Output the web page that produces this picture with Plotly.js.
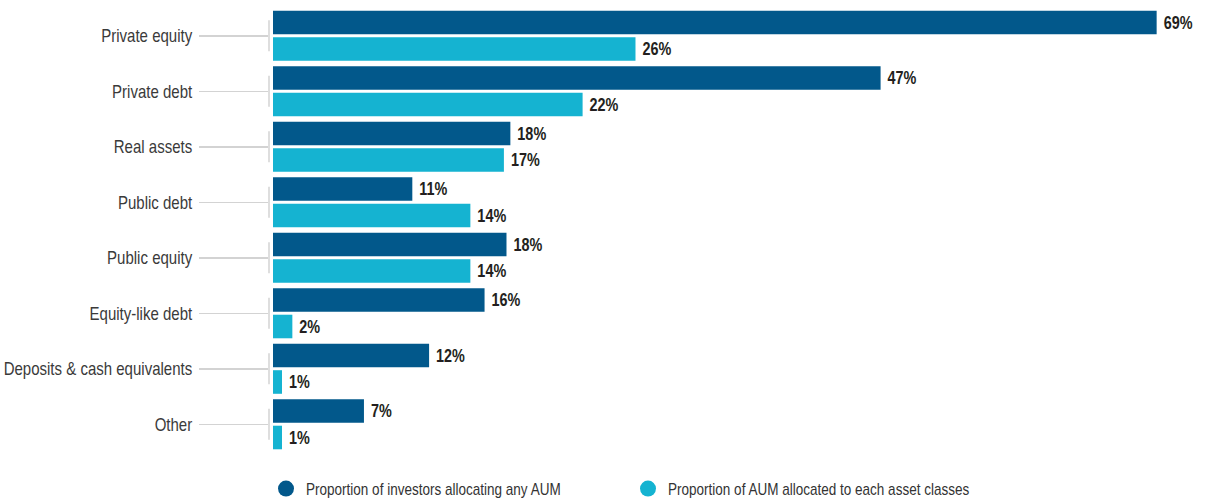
<!DOCTYPE html>
<html>
<head>
<meta charset="utf-8">
<script src="https://cdn.plot.ly/plotly-3.0.1.min.js"></script>
<style>
  html, body { margin: 0; padding: 0; background: #ffffff; }
  #chart { width: 1205px; height: 502px; }
</style>
</head>
<body>
<div id="chart"></div>
<script>
// ---- data ----
const categories = [
  "Private equity",
  "Private debt",
  "Real assets",
  "Public debt",
  "Public equity",
  "Equity-like debt",
  "Deposits & cash equivalents",
  "Other"
];
const seriesNames = [
  "Proportion of investors allocating any AUM",
  "Proportion of AUM allocated to each asset classes"
];
// bar lengths as drawn in the picture (percent)
const investorsValues = [68.5, 47.1, 18.4, 10.8, 18.1, 16.4, 12.1, 7.05];
const aumValues       = [28.1, 24.0, 17.9, 15.3, 15.3, 1.5, 0.7, 0.7];
// printed value labels
const investorsLabels = ["69%", "47%", "18%", "11%", "18%", "16%", "12%", "7%"];
const aumLabels       = ["26%", "22%", "17%", "14%", "14%", "2%", "1%", "1%"];

// ---- style ----
const DARK = "#02588B";
const LIGHT = "#15B3D1";
const SANS = "Liberation Sans, Arial, sans-serif";
const GREY = "#d3d3d3";

const valueFont = { family: SANS, size: 18, color: "#231f20", weight: 700 };

const traces = [
  {
    type: "bar", orientation: "h",
    y: categories, x: investorsValues,
    text: investorsLabels, texttemplate: " %{text}",
    textposition: "outside", cliponaxis: false, constraintext: "none",
    outsidetextfont: valueFont,
    marker: { color: DARK, line: { width: 0 } },
    name: seriesNames[0], showlegend: false, hoverinfo: "skip"
  },
  {
    type: "bar", orientation: "h",
    y: categories, x: aumValues,
    text: aumLabels, texttemplate: " %{text}",
    textposition: "outside", cliponaxis: false, constraintext: "none",
    outsidetextfont: valueFont,
    marker: { color: LIGHT, line: { width: 0 } },
    name: seriesNames[1], showlegend: false, hoverinfo: "skip"
  },
  // legend entries drawn as circles
  {
    type: "scatter", mode: "markers", x: [null], y: [null],
    name: seriesNames[0], showlegend: true,
    marker: { color: DARK, size: 16, symbol: "circle" }
  },
  {
    type: "scatter", mode: "markers", x: [null], y: [null],
    name: seriesNames[1], showlegend: true,
    marker: { color: LIGHT, size: 16, symbol: "circle" }
  }
];

const pxPerUnit = 12.9;
const plotLeft = 269, plotRight = 1195;
const xStart = -4 / pxPerUnit;
const xEnd = xStart + (plotRight - plotLeft) / pxPerUnit;

const shapes = categories.map((c, i) => ({
  type: "line", xref: "paper", yref: "y",
  x0: 0, x1: 0, y0: i - 0.28, y1: i + 0.28,
  line: { color: GREY, width: 1.5 }, layer: "below"
}));

const layout = {
  width: 1205, height: 502,
  paper_bgcolor: "#ffffff", plot_bgcolor: "#ffffff",
  margin: { l: plotLeft, r: 1205 - plotRight, t: 8, b: 50, pad: 0, autoexpand: false },
  barmode: "group",
  bargap: 0.045,
  bargroupgap: 0.11,
  showlegend: true,
  legend: {
    orientation: "h",
    xref: "container", yref: "container",
    x: 266 / 1205, xanchor: "left",
    y: 1 - 489 / 502, yanchor: "middle",
    font: { family: SANS, size: 17, color: "#333333" },
    entrywidth: 317, entrywidthmode: "pixels",
    itemwidth: 30,
    bgcolor: "rgba(0,0,0,0)"
  },
  xaxis: {
    range: [xStart, xEnd],
    visible: false, fixedrange: true
  },
  yaxis: {
    type: "category",
    autorange: "reversed",
    showline: false, showgrid: false, zeroline: false,
    ticks: "outside", ticklen: 69, tickwidth: 1.5, tickcolor: GREY,
    ticklabelstandoff: 3,
    tickfont: { family: SANS, size: 19, color: "#3a3a3a" },
    automargin: false, fixedrange: true
  },
  shapes: shapes,
  font: { family: SANS }
};

// emulate the condensed typeface of the original by narrowing glyphs
function condense(nodes, factor, keepLeft) {
  nodes.forEach(function (t) {
    const w = t.getComputedTextLength();
    if (!w) return;
    if (keepLeft && t.getAttribute("text-anchor") === "middle") {
      const x = parseFloat(t.getAttribute("x") || "0");
      t.setAttribute("text-anchor", "start");
      t.setAttribute("x", x - w / 2);
    }
    t.setAttribute("textLength", (w * factor).toFixed(2));
    t.setAttribute("lengthAdjust", "spacingAndGlyphs");
  });
}

Plotly.newPlot("chart", traces, layout, { displayModeBar: false, staticPlot: true }).then(function (gd) {
  condense(gd.querySelectorAll(".ytick text"), 0.79, false);
  condense(gd.querySelectorAll(".bartext"), 0.8, true);
  condense(gd.querySelectorAll(".legendtext"), 0.795, false);
});
</script>
</body>
</html>
